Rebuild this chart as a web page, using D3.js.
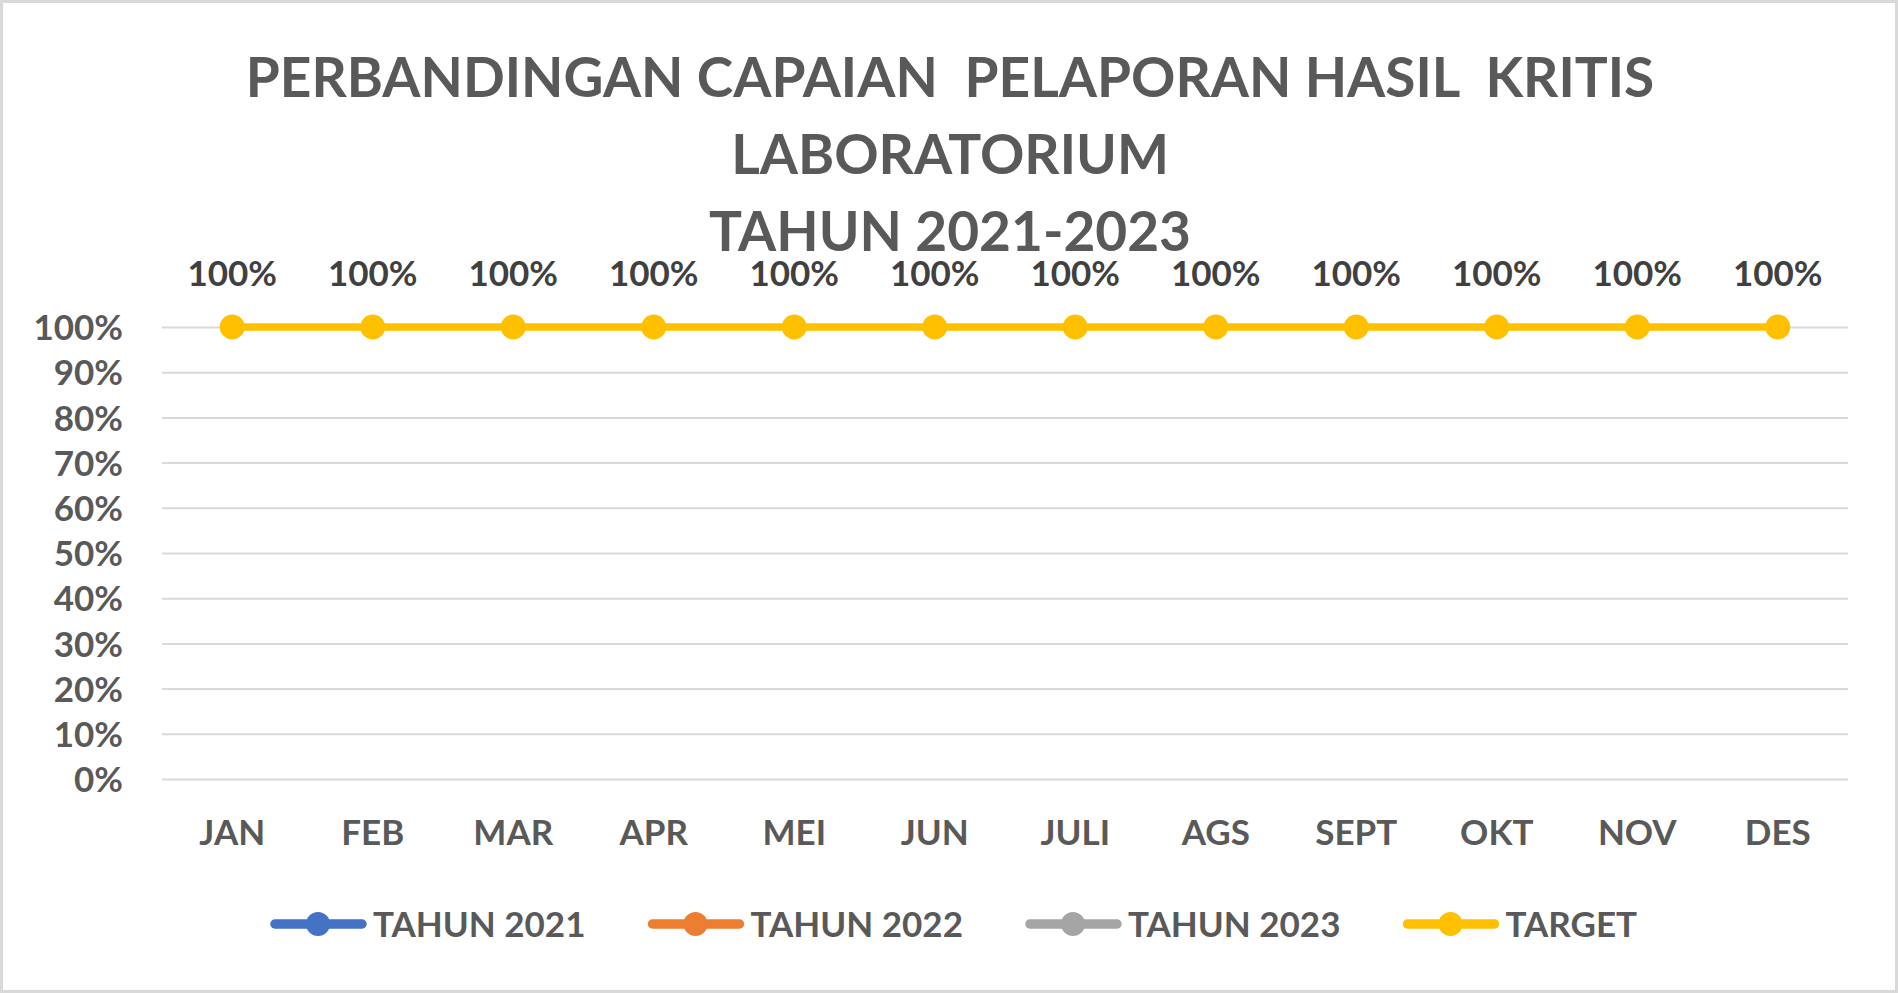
<!DOCTYPE html>
<html>
<head>
<meta charset="utf-8">
<script src="https://cdn.jsdelivr.net/npm/d3@7"></script>
<style>
  html, body { margin: 0; padding: 0; background: #fff; }
  svg { display: block; }
  text { font-family: Lato, "Open Sans", sans-serif; font-weight: 700; }
</style>
</head>
<body>
<svg id="chart" width="1898" height="993"></svg>
<script>
"use strict";

// chart data
const months = ["JAN", "FEB", "MAR", "APR", "MEI", "JUN", "JULI", "AGS", "SEPT", "OKT", "NOV", "DES"];
const tahun2021 = [null, null, null, null, null, null, null, null, null, null, null, null];
const tahun2022 = [null, null, null, null, null, null, null, null, null, null, null, null];
const tahun2023 = [null, null, null, null, null, null, null, null, null, null, null, null];
const target = [1, 1, 1, 1, 1, 1, 1, 1, 1, 1, 1, 1];
const yTicks = [0, 0.1, 0.2, 0.3, 0.4, 0.5, 0.6, 0.7, 0.8, 0.9, 1];
const titleLines = ["PERBANDINGAN CAPAIAN  PELAPORAN HASIL  KRITIS", "LABORATORIUM", "TAHUN 2021-2023"];

const series = [
    {name: "TAHUN 2021", color: "#4472C4", values: tahun2021, labels: false},
    {name: "TAHUN 2022", color: "#ED7D31", values: tahun2022, labels: false},
    {name: "TAHUN 2023", color: "#A5A5A5", values: tahun2023, labels: false},
    {name: "TARGET", color: "#FFC000", values: target, labels: true}
];

const W = 1898, H = 993;
const plot = {left: 162, right: 1848, top: 327, bottom: 779};

const svg = d3.select("#chart");

// background and outer border
svg.append("rect")
    .attr("x", 1.5).attr("y", 1.5)
    .attr("width", W - 3).attr("height", H - 3)
    .attr("fill", "#fff")
    .attr("stroke", "#d9d9d9")
    .attr("stroke-width", 3);

const x = d3.scaleBand().domain(months).range([plot.left, plot.right]);
const y = d3.scaleLinear().domain([0, 1]).range([plot.bottom, plot.top]);
const cx = (m) => x(m) + x.bandwidth() / 2;

// title
svg.append("g")
    .selectAll("text")
    .data(titleLines)
    .enter()
    .append("text")
    .attr("x", 950)
    .attr("y", (d, i) => 97 + i * 77)
    .attr("text-anchor", "middle")
    .attr("fill", "#595959")
    .style("font-size", "55px")
    .style("white-space", "pre")
    .text(d => d);

// gridlines
const grid = svg.append("g")
    .call(d3.axisLeft(y).tickValues(yTicks).tickFormat("").tickSize(-(plot.right - plot.left)))
    .attr("transform", "translate(" + plot.left + ",0)");
grid.select(".domain").remove();
grid.selectAll(".tick line")
    .attr("stroke", "#d9d9d9")
    .attr("stroke-width", 2);

// y axis labels
const yAxis = svg.append("g")
    .attr("transform", "translate(" + plot.left + ",0)")
    .call(d3.axisLeft(y).tickValues(yTicks).tickFormat(d3.format(".0%")).tickSize(0).tickPadding(39));
yAxis.select(".domain").remove();
yAxis.selectAll("text")
    .attr("fill", "#595959")
    .style("font-size", "35px")
    .attr("dy", "0.36em");

// x axis labels
const xAxis = svg.append("g")
    .attr("transform", "translate(0," + plot.bottom + ")")
    .call(d3.axisBottom(x).tickSize(0).tickPadding(0));
xAxis.select(".domain").remove();
xAxis.selectAll("text")
    .attr("fill", "#595959")
    .style("font-size", "35px")
    .attr("y", 66)
    .attr("dy", 0);

// series lines, markers and labels
const line = d3.line()
    .defined(d => d.v !== null)
    .x(d => cx(d.m))
    .y(d => y(d.v));

series.forEach(s => {
    const pts = months.map((m, i) => ({m: m, v: s.values[i]}));
    const g = svg.append("g");
    g.append("path")
        .datum(pts)
        .attr("d", line)
        .attr("fill", "none")
        .attr("stroke", s.color)
        .attr("stroke-width", 7.5)
        .attr("stroke-linejoin", "round");
    g.selectAll("circle")
        .data(pts.filter(d => d.v !== null))
        .enter()
        .append("circle")
        .attr("cx", d => cx(d.m))
        .attr("cy", d => y(d.v))
        .attr("r", 12.5)
        .attr("fill", s.color);
    if (s.labels) {
        g.selectAll("text")
            .data(pts.filter(d => d.v !== null))
            .enter()
            .append("text")
            .attr("x", d => cx(d.m))
            .attr("y", d => y(d.v) - 41)
            .attr("text-anchor", "middle")
            .attr("fill", "#404040")
            .style("font-size", "35px")
            .text(d => d3.format(".0%")(d.v));
    }
});

// legend
const legend = svg.append("g")
    .attr("transform", "translate(270,924)");
const item = legend.selectAll("g")
    .data(series)
    .enter()
    .append("g")
    .attr("transform", (d, i) => "translate(" + (i * 377.5) + ",0)");
item.append("line")
    .attr("x1", 5).attr("x2", 92)
    .attr("stroke", d => d.color)
    .attr("stroke-width", 9.5)
    .attr("stroke-linecap", "round");
item.append("circle")
    .attr("cx", 48)
    .attr("r", 12)
    .attr("fill", d => d.color);
item.append("text")
    .attr("x", 103)
    .attr("dy", "0.36em")
    .attr("fill", "#595959")
    .style("font-size", "35px")
    .text(d => d.name);
</script>
</body>
</html>
